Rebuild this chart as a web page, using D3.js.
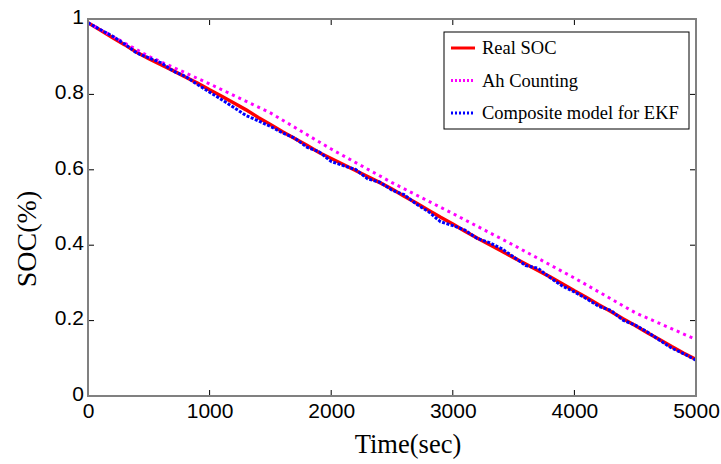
<!DOCTYPE html>
<html>
<head>
<meta charset="utf-8">
<script src="https://cdn.jsdelivr.net/npm/d3@7"></script>
<style>
  body { margin: 0; background: #fff; }
  svg { display: block; }
</style>
</head>
<body>
<div id="chart"></div>
<script>
// sample times (sec) for the real SOC and EKF traces
const timeSteps = [0,100,200,300,400,500,600,700,800,900,1000,1100,1200,1300,1400,1500,1600,1700,1800,1900,
  2000,2100,2200,2300,2400,2500,2600,2700,2800,2900,3000,3100,3200,3300,3400,3500,3600,3700,3800,3900,
  4000,4100,4200,4300,4400,4500,4600,4700,4800,4900,5000];

const realSOC = [0.990,0.971,0.951,0.932,0.912,0.895,0.879,0.863,0.846,0.830,0.812,0.795,0.777,0.759,0.739,0.720,0.701,0.683,0.665,0.646,
  0.630,0.614,0.598,0.582,0.566,0.549,0.530,0.512,0.493,0.474,0.456,0.437,0.419,0.402,0.385,0.367,0.350,0.333,0.316,0.298,
  0.279,0.261,0.242,0.224,0.205,0.187,0.168,0.150,0.131,0.113,0.097];

const ekfSOC = [0.990,0.972,0.955,0.934,0.910,0.897,0.884,0.862,0.848,0.826,0.806,0.786,0.765,0.744,0.730,0.715,0.698,0.684,0.660,0.648,
  0.622,0.611,0.601,0.576,0.567,0.546,0.534,0.509,0.489,0.462,0.452,0.440,0.418,0.407,0.391,0.369,0.346,0.339,0.314,0.292,
  0.276,0.258,0.238,0.227,0.201,0.188,0.170,0.148,0.127,0.112,0.095];

// Ah counting is smooth, read every 500 sec
const ahTimes = [0,500,1000,1500,2000,2500,3000,3500,4000,4500,5000];
const ahSOC = [0.990,0.901,0.828,0.751,0.655,0.566,0.484,0.400,0.313,0.221,0.150];

const xTicks = [0,1000,2000,3000,4000,5000];
const yTicks = [0,0.2,0.4,0.6,0.8,1];

const seriesNames = ["Real SOC", "Ah Counting", "Composite model for EKF"];

const W = 721, H = 464;
const margin = {left: 88, right: 25, top: 19, bottom: 68};
const width = W - margin.left - margin.right;
const height = H - margin.top - margin.bottom;

const svg = d3.select("#chart").append("svg")
  .attr("width", W)
  .attr("height", H);

const g = svg.append("g")
  .attr("transform", `translate(${margin.left},${margin.top})`);

const x = d3.scaleLinear().domain([0, 5000]).range([0, width]);
const y = d3.scaleLinear().domain([0, 1]).range([height, 0]);

// clip lines to the axes box
g.append("clipPath").attr("id", "clip")
  .append("rect").attr("width", width).attr("height", height);

//Lines
const realData = timeSteps.map((t, i) => ({t: t, v: realSOC[i]}));
const ekfData = timeSteps.map((t, i) => ({t: t, v: ekfSOC[i]}));
const ahData = ahTimes.map((t, i) => ({t: t, v: ahSOC[i]}));

const line = d3.line().x(d => x(d.t)).y(d => y(d.v));

const lines = g.append("g").attr("clip-path", "url(#clip)");

lines.append("path").datum(realData)
  .attr("d", line)
  .attr("fill", "none")
  .attr("stroke", "#ff0000")
  .attr("stroke-width", 3.5);

lines.append("path").datum(ahData)
  .attr("d", line)
  .attr("fill", "none")
  .attr("stroke", "#ff00ff")
  .attr("stroke-width", 3)
  .attr("stroke-dasharray", "3,4");

lines.append("path").datum(ekfData)
  .attr("d", line)
  .attr("fill", "none")
  .attr("stroke", "#0000ff")
  .attr("stroke-width", 3)
  .attr("stroke-dasharray", "3,1.5");

//Axes box and inner ticks
const tickLen = 6;
const bottomAxis = d3.axisBottom(x).tickValues(xTicks).tickSize(0).tickPadding(7)
  .tickFormat(d3.format("d"));
const leftAxis = d3.axisLeft(y).tickValues(yTicks).tickSize(0).tickPadding(4)
  .tickFormat(d3.format("~g"));

const xa = g.append("g").attr("transform", `translate(0,${height})`).call(bottomAxis);
const ya = g.append("g").call(leftAxis);
[xa, ya].forEach(a => {
  a.select(".domain").remove();
  a.selectAll("text")
    .attr("font-family", "'Liberation Sans', Arial, sans-serif")
    .attr("font-size", 21)
    .attr("fill", "#000");
});
ya.selectAll("text").attr("dy", "0.2em");

const tickG = g.append("g").attr("stroke", "#000").attr("stroke-width", 1);
xTicks.slice(1, -1).forEach(t => {
  tickG.append("line").attr("x1", x(t)).attr("x2", x(t)).attr("y1", height).attr("y2", height - tickLen);
  tickG.append("line").attr("x1", x(t)).attr("x2", x(t)).attr("y1", 0).attr("y2", tickLen);
});
yTicks.slice(1, -1).forEach(t => {
  tickG.append("line").attr("y1", y(t)).attr("y2", y(t)).attr("x1", 0).attr("x2", tickLen);
  tickG.append("line").attr("y1", y(t)).attr("y2", y(t)).attr("x1", width).attr("x2", width - tickLen);
});

g.append("rect")
  .attr("width", width)
  .attr("height", height)
  .attr("fill", "none")
  .attr("stroke", "#808080")
  .attr("stroke-width", 2);

//Axis titles
g.append("text")
  .attr("x", 408 - margin.left)
  .attr("y", 453 - margin.top)
  .attr("text-anchor", "middle")
  .attr("font-family", "'Liberation Serif', 'Times New Roman', serif")
  .attr("font-size", 26.5)
  .text("Time(sec)");

g.append("text")
  .attr("transform", `translate(${36 - margin.left},${239 - margin.top}) rotate(-90)`)
  .attr("text-anchor", "middle")
  .attr("font-family", "'Liberation Serif', 'Times New Roman', serif")
  .attr("font-size", 28)
  .text("SOC(%)");

//Legend
const legend = g.append("g").attr("transform", `translate(${444 - margin.left},${32 - margin.top})`);
legend.append("rect")
  .attr("width", 245)
  .attr("height", 97)
  .attr("fill", "#fff")
  .attr("stroke", "#000")
  .attr("stroke-width", 1);

const legendStyles = [
  {color: "#ff0000", width: 3, dash: null},
  {color: "#ff00ff", width: 3, dash: "2,2"},
  {color: "#0000ff", width: 3, dash: "2,2"}
];
seriesNames.forEach((name, i) => {
  const row = legend.append("g").attr("transform", `translate(0,${16 + i * 32.5})`);
  row.append("line")
    .attr("x1", 7).attr("x2", 31)
    .attr("stroke", legendStyles[i].color)
    .attr("stroke-width", legendStyles[i].width)
    .attr("stroke-dasharray", legendStyles[i].dash);
  row.append("text")
    .attr("x", 38)
    .attr("dy", "0.35em")
    .attr("font-family", "'Liberation Serif', 'Times New Roman', serif")
    .attr("font-size", 18.5)
    .text(name);
});
</script>
</body>
</html>
